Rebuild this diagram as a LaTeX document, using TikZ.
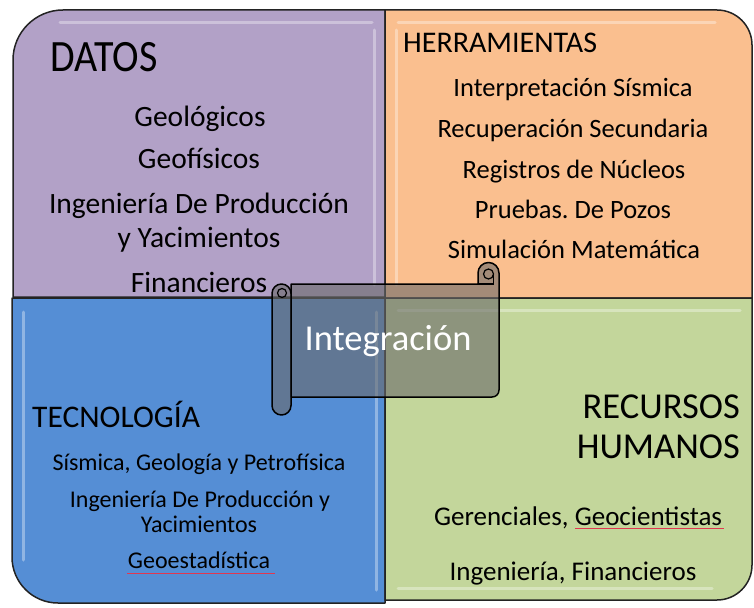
\documentclass[tikz,border=0pt]{standalone}
\usepackage{fontspec}
\setmainfont{Carlito}
\frenchspacing
\definecolor{datos}{RGB}{178,161,199}
\definecolor{herr}{RGB}{250,191,143}
\definecolor{tecno}{RGB}{85,142,213}
\definecolor{recur}{RGB}{195,214,155}
\definecolor{edge}{RGB}{35,35,35}
\definecolor{scrollc}{RGB}{105,105,105}
\definecolor{spell}{RGB}{225,55,80}
\begin{document}
\begin{tikzpicture}[x=1pt,y=-1pt,
  quad/.style={draw=edge, line width=1.5pt, line join=round},
  gloss/.style={draw=white, draw opacity=0.35, line width=3pt, line cap=round},
  scrollpart/.style={draw=black, line width=1.5pt, fill=scrollc, fill opacity=0.6, line join=round},
  title/.style={anchor=base west, inner sep=0pt, font=\fontsize{30}{32}\selectfont},
  itemA/.style={anchor=base, inner sep=0pt, font=\fontsize{29.5}{31}\selectfont},
  itemB/.style={anchor=base, inner sep=0pt, font=\fontsize{26.5}{28}\selectfont},
  itemC/.style={anchor=base, inner sep=0pt, font=\fontsize{24}{26}\selectfont},
  itemD/.style={anchor=base, inner sep=0pt, font=\fontsize{27}{29}\selectfont},
  spellline/.style={draw=spell, line width=1.3pt}]
\useasboundingbox (0,0) rectangle (754,607);
\fill[white] (0,0) rectangle (754,607);

% quadrants
\path[quad, fill=datos] (385,297) -- (13,297) -- (13,60) .. controls (13,32.4) and (35.4,10) .. (63,10) -- (385,10) -- cycle;
\path[quad, fill=herr] (385,298) -- (385,10) -- (717,10) .. controls (736.3,10) and (752,25.7) .. (752,45) -- (752,298) -- cycle;
\path[quad, fill=tecno] (12,298) -- (385,298) -- (385,603) -- (58,603) .. controls (32.6,603) and (12,582.4) .. (12,557) -- cycle;
\path[quad, fill=recur] (385,298) -- (752,298) -- (752,565) .. controls (752,584.3) and (736.3,600) .. (717,600) -- (385,600) -- cycle;

% glossy highlights
\draw[gloss] (60,23) -- (372,23);
\draw[gloss] (374,30) -- (374,285);
\draw[gloss] (398,23) -- (715,23);
\draw[gloss] (396,30) -- (396,285);
\draw[gloss] (23,312) -- (23,560);
\draw[gloss] (376,312) -- (376,590);
\draw[gloss] (398,310) -- (740,310);
\draw[gloss] (398,588) -- (712,588);

% DATOS
\node[title] (datos) at (50,72) {\fontsize{40}{42}\selectfont\scalebox{1}[1.12]{DATOS}};
\node[itemA] (d1) at (200,127) {Geológicos};
\node[itemA] (d2) at (199,168) {Geofísicos};
\node[itemA] (d3) at (199,213) {Ingeniería De Producción};
\node[itemA] (d4) at (199,247) {y Yacimientos};
\node[itemA] (d5) at (199,292) {Financieros};

% HERRAMIENTAS
\node[title] (herr) at (403,53) {HERRAMIENTAS};
\node[itemB] (h1) at (573,97) {Interpretación Sísmica};
\node[itemB] (h2) at (573,137) {Recuperación Secundaria};
\node[itemB] (h3) at (574,178) {Registros de Núcleos};
\node[itemB] (h4) at (573,218) {Pruebas. De Pozos};
\node[itemB] (h5) at (574,258) {Simulación Matemática};

% TECNOLOGIA
\node[title, font=\fontsize{31.5}{33}\selectfont] (tec) at (32,427) {TECNOLOGÍA};
\node[itemC] (t1) at (199,470) {Sísmica, Geología y Petrofísica};
\node[itemC] (t2) at (200,507) {Ingeniería De Producción y};
\node[itemC] (t3) at (199,532) {Yacimientos};
\node[itemC] (t4) at (199,568) {Geoestadística};
\coordinate (u1a) at (127,573.5);
\coordinate (u1b) at (275,573.5);
\draw[spellline] (u1a) -- (u1b);

% RECURSOS HUMANOS
\node[title, anchor=base east, font=\fontsize{36.5}{38}\selectfont] (rec1) at (740,418) {RECURSOS};
\node[title, anchor=base east, font=\fontsize{36.5}{38}\selectfont] (rec2) at (740,458) {HUMANOS};
\node[itemD] (r1) at (578,525) {Gerenciales, Geocientistas};
\node[itemD] (r2) at (573,580) {Ingeniería, Financieros};
\coordinate (u2a) at (575,528);
\coordinate (u2b) at (724,528);
\draw[spellline, line width=1pt] (u2a) -- (u2b);

% scroll
\path[scrollpart] (291,284) -- (478,284) -- (478,273)
  .. controls (478,267.2) and (482.7,262.5) .. (488.5,262.5)
  .. controls (494.3,262.5) and (499,267.2) .. (499,273)
  -- (499,390) .. controls (499,394) and (496,397) .. (492,397)
  -- (291,397) -- cycle;
\path[scrollpart] (272,293.5) .. controls (272,288.25) and (276.25,284) .. (281.5,284)
  .. controls (286.75,284) and (291,288.25) .. (291,293.5)
  -- (291,405.5) .. controls (291,410.75) and (286.75,415) .. (281.5,415)
  .. controls (276.25,415) and (272,410.75) .. (272,405.5) -- cycle;
\draw[black, line width=1.2pt] (282,293) circle (4.5);
\draw[black, line width=1.2pt] (488.5,274) circle (5);
\draw[black, line width=1.2pt] (478,284) -- (493.5,284) -- (493.5,274);
\node[anchor=base, inner sep=0pt, text=white, font=\fontsize{36.5}{38}\selectfont] (integ) at (388,350) {Integración};
\end{tikzpicture}
\end{document}
